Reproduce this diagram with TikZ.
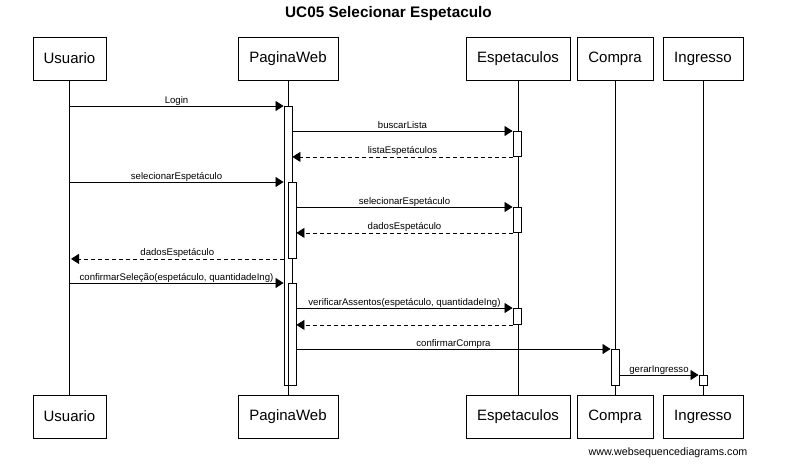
\documentclass[tikz,border=0pt]{standalone}
\usepackage{fontspec}
\setmainfont{Liberation Sans}
\usetikzlibrary{arrows.meta}
\begin{document}
\begin{tikzpicture}[x=1pt,y=-1pt,
  actor/.style={draw=black,line width=0.9pt,fill=white,inner sep=0pt,minimum height=43pt,font=\fontsize{15}{18}\selectfont},
  actbar/.style={draw=black,line width=0.9pt,fill=white,inner sep=0pt,minimum width=8pt,anchor=north},
  life/.style={draw=black,line width=0.9pt},
  msg/.style={draw=black,line width=0.8pt,-{Triangle[length=8pt,width=10pt]}},
  ret/.style={msg,dash pattern=on 4pt off 3pt},
  lbl/.style={font=\fontsize{9.6}{11}\selectfont,inner sep=0pt,anchor=base,yshift=3pt}]
\useasboundingbox (0,0) rectangle (801,475);
\node[font=\bfseries\fontsize{15.3}{18}\selectfont] (title) at (388.5,14) {UC05 Selecionar Espetaculo};
% participants
\node[actor,minimum width=73pt] (uT) at (69.5,58.5) {Usuario};
\node[actor,minimum width=100pt] (pT) at (288,58.5) {PaginaWeb};
\node[actor,minimum width=104pt] (eT) at (518,58.5) {Espetaculos};
\node[actor,minimum width=76pt] (cT) at (615,58.5) {Compra};
\node[actor,minimum width=80pt] (iT) at (703,58.5) {Ingresso};
\node[actor,minimum width=73pt] (uB) at (69.5,416.5) {Usuario};
\node[actor,minimum width=100pt] (pB) at (288,416.5) {PaginaWeb};
\node[actor,minimum width=104pt] (eB) at (518,416.5) {Espetaculos};
\node[actor,minimum width=76pt] (cB) at (615,416.5) {Compra};
\node[actor,minimum width=80pt] (iB) at (703,416.5) {Ingresso};
% lifelines
\draw[life] (uT.south) -- (uB.north);
\draw[life] (pT.south) -- (pB.north);
\draw[life] (eT.south) -- (eB.north);
\draw[life] (cT.south) -- (cB.north);
\draw[life] (iT.south) -- (iB.north);
% activation bars
\node[actbar,minimum height=279pt] (pwA) at (288,106) {};
\node[actbar,minimum height=76pt] (pwB) at (292,182) {};
\node[actbar,minimum height=102pt] (pwC) at (292,283) {};
\node[actbar,minimum height=25pt] (esA) at (517,131) {};
\node[actbar,minimum height=25pt] (esB) at (517,207) {};
\node[actbar,minimum height=16pt] (esC) at (517,308) {};
\node[actbar,minimum height=36pt] (coA) at (615,349) {};
\node[actbar,minimum height=10pt] (inA) at (703,375) {};
% messages
\draw[msg] (uT.south |- pwA.north) -- node[lbl]{Login} (pwA.north west);
\draw[msg] (pwA.east |- esA.north) -- node[lbl]{buscarLista} (esA.north west);
\draw[ret] (esA.south west) -- node[lbl]{listaEspetáculos} (pwA.east |- esA.south);
\draw[msg] (uT.south |- pwB.north) -- node[lbl]{selecionarEspetáculo} (pwA.west |- pwB.north);
\draw[msg] (pwB.east |- esB.north) -- node[lbl]{selecionarEspetáculo} (esB.north west);
\draw[ret] (esB.south west) -- node[lbl]{dadosEspetáculo} (pwB.east |- esB.south);
\draw[ret] (pwA.west |- pwB.south) -- node[lbl]{dadosEspetáculo} ([xshift=1.5pt]uT.south |- pwB.south);
\draw[msg] (uT.south |- pwC.north) -- node[lbl]{confirmarSeleção(espetáculo, quantidadeIng)} (pwA.west |- pwC.north);
\draw[msg] (pwC.east |- esC.north) -- node[lbl]{verificarAssentos(espetáculo, quantidadeIng)} (esC.north west);
\draw[ret] (esC.south west) -- (pwC.east |- esC.south);
\draw[msg] (pwC.east |- coA.north) -- node[lbl]{confirmarCompra} (coA.north west);
\draw[msg] (coA.east |- inA.north) -- node[lbl]{gerarIngresso} (inA.north west);
\node[font=\fontsize{10.7}{13}\selectfont] (footer) at (668,453) {www.websequencediagrams.com};
\end{tikzpicture}
\end{document}
